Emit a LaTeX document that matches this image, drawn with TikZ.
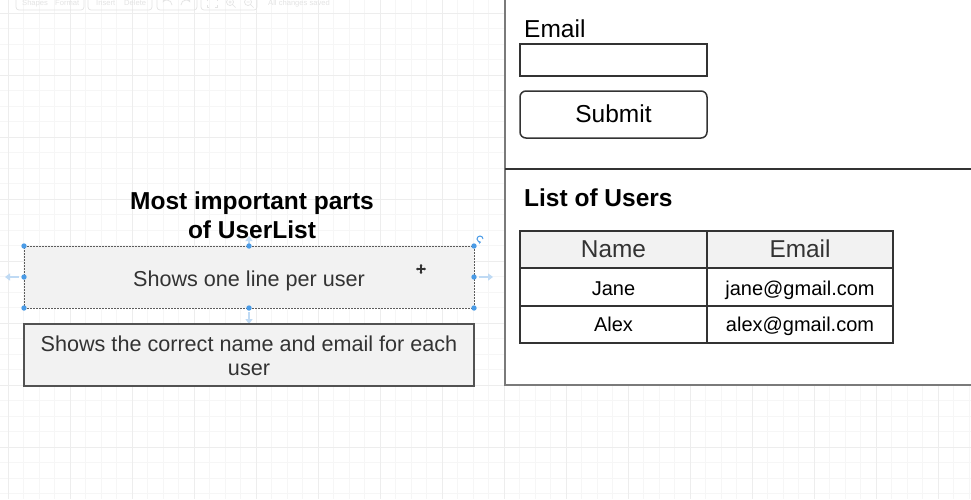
\documentclass[tikz,border=0pt]{standalone}
\usepackage{fontspec}
\setmainfont{Liberation Sans}
\usetikzlibrary{arrows.meta}
\definecolor{gridmin}{HTML}{F6F6F6}
\definecolor{gridmaj}{HTML}{EDEDED}
\definecolor{boxfill}{HTML}{F2F2F2}
\definecolor{txtgray}{HTML}{333333}
\definecolor{handleblue}{HTML}{4A9BE6}
\definecolor{hintblue}{HTML}{BFDAF4}
\definecolor{tbgray}{HTML}{E4E4E4}
\definecolor{panelgray}{HTML}{7A7A7A}
\begin{document}
\begin{tikzpicture}[x=1pt,y=-1pt,
  gminor/.style={draw=gridmin, line width=0.6pt},
  gmajor/.style={draw=gridmaj, line width=0.8pt},
  notebox/.style={fill=boxfill, minimum width=450pt, minimum height=62pt, inner sep=0pt, outer sep=0pt},
  boxtxt/.style={font=\fontsize{21.6}{26}\selectfont, text=txtgray, inner sep=0pt, anchor=base},
  titletxt/.style={font=\fontsize{24.5}{29}\bfseries, text=black, inner sep=0pt, anchor=base},
  uitxt/.style={font=\fontsize{24.5}{29}\selectfont, text=black, inner sep=0pt, anchor=base},
  headtxt/.style={font=\fontsize{24.4}{29}\selectfont, text=txtgray, inner sep=0pt, anchor=base},
  celltxt/.style={font=\fontsize{20}{24}\selectfont, text=black, inner sep=0pt, anchor=base},
  cell/.style={draw=txtgray, line width=1.3pt, minimum height=37.5pt, inner sep=0pt, outer sep=0pt},
  tbtxt/.style={font=\fontsize{7.6}{9}\selectfont, text=tbgray, inner sep=0pt, anchor=base west},
  tbicon/.style={draw=tbgray, line width=0.7pt},
  handle/.style={fill=handleblue},
  hint/.style={draw=hintblue, line width=2pt, -{Triangle[length=5pt,width=7pt]}},
  panelline/.style={draw=panelgray, line width=1.3pt}
]
% background and bounding box
\path[use as bounding box, fill=white] (0,0) rectangle (971,499);

% grid
\foreach \i in {0,...,63} {
  \draw[gminor] ({-7.5+15.5*\i},0) -- ++(0,499);
}
\foreach \i in {0,...,33} {
  \draw[gminor] (0,{-2.5+15.5*\i}) -- ++(971,0);
}
\foreach \i in {0,...,15} {
  \draw[gmajor] ({8+62*\i},0) -- ++(0,499);
}
\foreach \i in {0,...,7} {
  \draw[gmajor] (0,{13+62*\i}) -- ++(971,0);
}

% toolbar (faint)
\draw[tbicon, rounded corners=3pt] (16,-6) rectangle (84,10);
\draw[tbicon, rounded corners=3pt] (88,-6) rectangle (152,10);
\draw[tbicon, rounded corners=3pt] (157,-6) rectangle (197,10);
\draw[tbicon, rounded corners=3pt] (201,-6) rectangle (257,10);
\node[tbtxt] (tbshapes) at (22,5.7) {Shapes};
\node[tbtxt] (tbformat) at (55,5.7) {Format};
\node[tbtxt] (tbinsert) at (96,5.7) {Insert};
\node[tbtxt] (tbdelete) at (124,5.7) {Delete};
\node[tbtxt] (tbsaved) at (268,5.7) {All changes saved};
\draw[tbicon, -{Stealth[length=3pt]}] (172,5) arc (0:-150:5);
\draw[tbicon, -{Stealth[length=3pt]}] (181,5) arc (180:330:5);
\draw[tbicon] (207,1) -- (207,-1) -- (209,-1) (215,-1) -- (217,-1) -- (217,1) (207,5) -- (207,7) -- (209,7) (215,7) -- (217,7) -- (217,5);
\draw[tbicon] (230,2) circle (3.5) (232.5,4.5) -- (235.5,7.5) (228.5,2) -- (231.5,2) (230,0.5) -- (230,3.5);
\draw[tbicon] (248,2) circle (3.5) (250.5,4.5) -- (253.5,7.5) (246.5,2) -- (249.5,2);

% right panel
\fill[white] (505,0) rectangle (971,385);
\draw[panelline] (505,0) -- (505,385) -- (971,385);
\draw[draw=txtgray, line width=1.5pt] (505,169) -- (971,169);

% form
\node[uitxt, anchor=base west] (emaillbl) at (524,37) {Email};
\node[draw=txtgray, line width=1.5pt, minimum width=187pt, minimum height=32pt, inner sep=0pt] (emailinput) at (613.5,60) {};
\node[draw=txtgray, line width=1.5pt, rounded corners=6pt, minimum width=187pt, minimum height=47pt, inner sep=0pt] (submitbtn) at (613.5,114.5) {};
\node[uitxt] (submittxt) at (613.5,122.7) {Submit};

% list of users
\node[titletxt, anchor=base west] (listtitle) at (524,206.7) {List of Users};
\node[cell, fill=boxfill, minimum width=187pt, minimum height=37pt] (hname) at (613.5,249.5) {};
\node[cell, fill=boxfill, minimum width=186pt, minimum height=37pt] (hemail) at (800,249.5) {};
\node[cell, minimum width=187pt, minimum height=38pt] (c11) at (613.5,287) {};
\node[cell, minimum width=186pt, minimum height=38pt] (c12) at (800,287) {};
\node[cell, minimum width=187pt, minimum height=37pt] (c21) at (613.5,324.5) {};
\node[cell, minimum width=186pt, minimum height=37pt] (c22) at (800,324.5) {};
\node[headtxt] (hnametxt) at (613.5,257.3) {Name};
\node[headtxt] (hemailtxt) at (800,257.3) {Email};
\node[celltxt] (c11t) at (613.5,295) {Jane};
\node[celltxt] (c12t) at (800,295) {jane@gmail.com};
\node[celltxt] (c21t) at (613.5,331.7) {Alex};
\node[celltxt] (c22t) at (800,331.7) {alex@gmail.com};

% left side
\draw[hint] (249,245) -- (249,236);
\node[titletxt] (title1) at (252,209) {Most important parts};
\node[titletxt] (title2) at (252,238) {of UserList};

\draw[hint] (249,312) -- (249,324);
\node[notebox, draw=txtgray!80, line width=1pt, dash pattern=on 2pt off 1pt] (note1) at (249,277) {};
\node[boxtxt] (note1t) at (249,286.7) {Shows one line per user};
\node[notebox, draw=txtgray!85, line width=1.6pt] (note2) at (249,355) {};
\node[boxtxt] (note2a) at (249,351) {Shows the correct name and email for each};
\node[boxtxt] (note2b) at (249,375) {user};

% selection handles
\foreach \hx/\hy in {24/246, 249/246, 474/246, 24/277, 474/277, 24/308, 249/308, 474/308} {
  \fill[handle] (\hx,\hy) circle (2.7);
}
\draw[hint] (19,277) -- (5,277);
\draw[hint] (479,277) -- (493,277);
\draw[draw=handleblue, line width=1pt, -{Stealth[length=2.5pt,width=3pt]}] (483,239) arc (0:-290:3);

% cursor
\draw[draw=txtgray, line width=1.3pt, {Stealth[length=2pt,width=3pt]}-{Stealth[length=2pt,width=3pt]}] (416,269) -- (426,269);
\draw[draw=txtgray, line width=1.3pt, {Stealth[length=2pt,width=3pt]}-{Stealth[length=2pt,width=3pt]}] (421,264) -- (421,274);
\end{tikzpicture}
\end{document}
